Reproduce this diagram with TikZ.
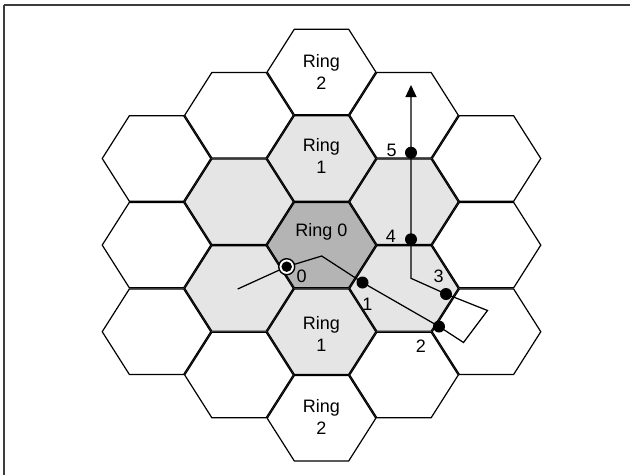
\documentclass[tikz,border=0pt]{standalone}
\usepackage{fontspec}
\setmainfont{Liberation Sans}
\usetikzlibrary{arrows.meta}
\definecolor{ringzero}{RGB}{180,180,180}
\definecolor{ringone}{RGB}{229,229,229}
\definecolor{framegray}{RGB}{60,60,60}
% flat-topped hexagon cell, centre (#1,#2), circumradius 55, half height 43.3
\newcommand\hexcell[2]{(#1-55,#2) -- (#1-27.5,#2-43.3) -- (#1+27.5,#2-43.3) -- (#1+55,#2) -- (#1+27.5,#2+43.3) -- (#1-27.5,#2+43.3) -- cycle}
\tikzset{
  ringtext/.style={inner sep=0pt, align=center, font=\fontsize{18}{22}\selectfont},
  steplabel/.style={inner sep=0pt, font=\fontsize{18}{22}\selectfont},
  walkdot/.style={circle, fill=black, inner sep=0pt, minimum size=12pt},
  startring/.style={circle, draw=black, fill=white, line width=1.4pt, inner sep=0pt, minimum size=16pt},
  walkline/.style={line width=1.25pt, black},
}
\begin{document}
\begin{tikzpicture}[x=1pt, y=-1pt]
\useasboundingbox (0,0) rectangle (630,475);
\fill[white] (0,0) rectangle (630,475);

% frame (only top and left edges fall inside the page)
\draw[framegray, line width=1.6pt] (4,5) -- (630,5);
\draw[framegray, line width=2pt] (4,5) -- (4,475);

% cell fills
\foreach \cx/\cy/\fc in {
  321.5/71.9/white, 321.5/158.5/ringone, 321.5/245.1/ringzero, 321.5/331.7/ringone, 321.5/418.3/white,
  239/115.2/white, 239/201.8/ringone, 239/288.4/ringone, 239/375/white,
  404/115.2/white, 404/201.8/ringone, 404/288.4/ringone, 404/375/white,
  156.5/158.5/white, 156.5/245.1/white, 156.5/331.7/white,
  486.5/158.5/white, 486.5/245.1/white, 486.5/331.7/white}
  { \fill[\fc] \hexcell{\cx}{\cy}; }

% cell borders: each drawn inside its own cell, so shared edges come out doubled
\foreach \cx/\cy in {
  321.5/71.9, 321.5/158.5, 321.5/245.1, 321.5/331.7, 321.5/418.3,
  239/115.2, 239/201.8, 239/288.4, 239/375,
  404/115.2, 404/201.8, 404/288.4, 404/375,
  156.5/158.5, 156.5/245.1, 156.5/331.7,
  486.5/158.5, 486.5/245.1, 486.5/331.7}
  { \begin{scope}
      \clip \hexcell{\cx}{\cy};
      \draw[black, line width=2.4pt, line join=miter] \hexcell{\cx}{\cy};
    \end{scope} }

% ring labels
\node[ringtext] (r2top) at (321.5,71.5) {Ring\\2};
\node[ringtext] (r1top) at (321.5,155.5) {Ring\\1};
\node[ringtext, anchor=base] (r0) at (321.5,236.7) {Ring 0};
\node[ringtext] (r1bot) at (321.5,334) {Ring\\1};
\node[ringtext] (r2bot) at (321.5,417) {Ring\\2};

% walk path points
\coordinate (start) at (237.7,289);
\coordinate (p0) at (286.7,266.7);
\coordinate (peak) at (321.7,256);
\coordinate (p1) at (362.5,282.5);
\coordinate (p2) at (439,326.5);
\coordinate (boxa) at (463.5,342.5);
\coordinate (boxb) at (487.5,310.5);
\coordinate (p3) at (446,294);
\coordinate (bend) at (411,278.3);
\coordinate (p4) at (411,239.3);
\coordinate (p5) at (411,152.7);
\coordinate (tip) at (411,85);

\draw[walkline, line join=miter, -{Triangle[length=12pt,width=11pt]}]
  (start) -- (p0) -- (peak) -- (p1) -- (p2) -- (boxa) -- (boxb) -- (p3) -- (bend) -- (p4) -- (p5) -- (tip);

% walk markers
\node[startring] (s0) at (p0) {};
\node[walkdot, minimum size=10.5pt] (d0) at (p0) {};
\node[walkdot] (d1) at (p1) {};
\node[walkdot] (d2) at (p2) {};
\node[walkdot] (d3) at (p3) {};
\node[walkdot] (d4) at (p4) {};
\node[walkdot] (d5) at (p5) {};

% step numbers
\node[steplabel] (l0) at (301.7,276) {0};
\node[steplabel] (l1) at (367.3,304) {1};
\node[steplabel] (l2) at (421,346) {2};
\node[steplabel] (l3) at (438.7,276) {3};
\node[steplabel] (l4) at (391,236.7) {4};
\node[steplabel] (l5) at (391.7,150) {5};
\end{tikzpicture}
\end{document}
